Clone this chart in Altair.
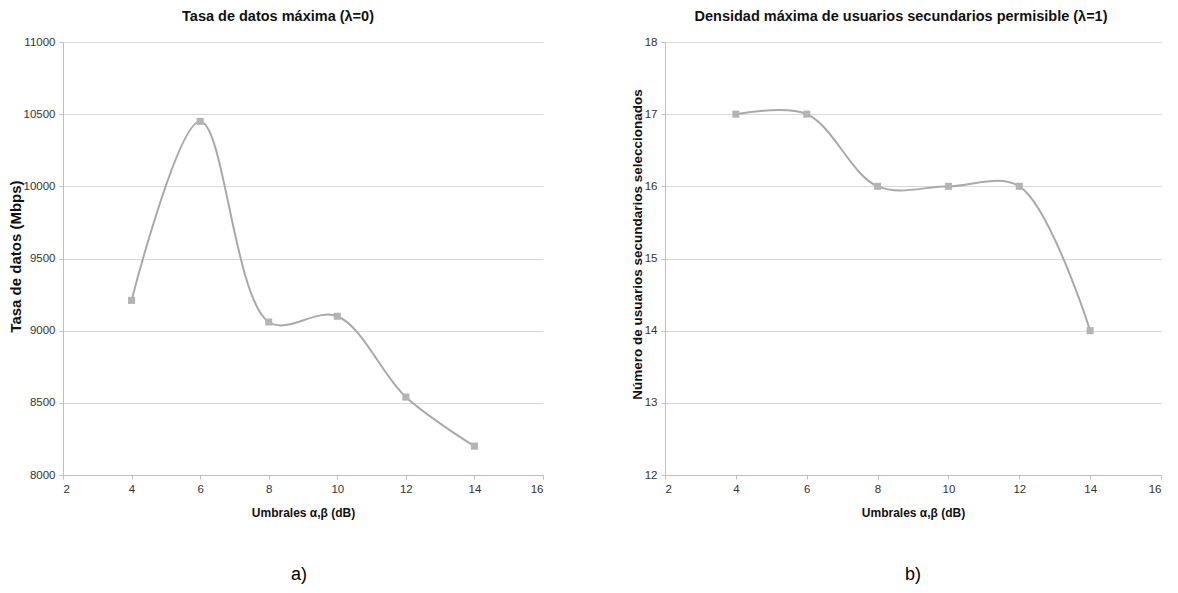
import altair as alt
import pandas as pd

# ---- data ----
umbrales = [4, 6, 8, 10, 12, 14]
tasa_datos = [9210, 10450, 9060, 9100, 8540, 8200]
usuarios_sec = [17, 17, 16, 16, 16, 14]

x_ticks = [2, 4, 6, 8, 10, 12, 14, 16]
y_ticks_a = [8000, 8500, 9000, 9500, 10000, 10500, 11000]
y_ticks_b = [12, 13, 14, 15, 16, 17, 18]

title_a = "Tasa de datos máxima (λ=0)"
title_b = "Densidad máxima de usuarios secundarios permisible (λ=1)"
ytitle_a = "Tasa de datos (Mbps)"
ytitle_b = "Número de usuarios secundarios seleccionados"
xtitle = "Umbrales α,β (dB)"
label_a = "a)"
label_b = "b)"

FONT = "Liberation Sans"
H = 433


def panel(values, yticks, title, title_dx, ytitle, ytitle_size, ytitle_y,
          label, w, label_dx):
    df = pd.DataFrame({"x": umbrales, "y": values})
    x = alt.X(
        "x:Q",
        scale=alt.Scale(domain=[x_ticks[0], x_ticks[-1]], nice=False, zero=False),
        axis=alt.Axis(values=x_ticks, title=xtitle, grid=False, format="d",
                      labelPadding=4, titlePadding=13, tickSize=4),
    )
    y = alt.Y(
        "y:Q",
        scale=alt.Scale(domain=[yticks[0], yticks[-1]], nice=False, zero=False),
        axis=alt.Axis(values=yticks, title=ytitle, grid=True, format="d",
                      labelPadding=4, titlePadding=0, tickSize=4,
                      titleFontSize=ytitle_size, titleY=ytitle_y),
    )
    line = alt.Chart(df).mark_line(
        interpolate="catmull-rom", color="#a9a9a9", strokeWidth=2
    ).encode(x=x, y=y)
    pts = alt.Chart(df).mark_point(
        shape="square", filled=True, size=50, color="#b4b4b4", opacity=1
    ).encode(x=x, y=y)
    lab = alt.Chart(pd.DataFrame({"t": [label]})).mark_text(
        fontSize=18, font=FONT, color="#000000", baseline="middle", align="center"
    ).encode(text="t:N", x=alt.value(w / 2 + label_dx), y=alt.value(H + 100))
    return alt.layer(line, pts, lab).properties(
        width=w, height=H, title=alt.TitleParams(title, dx=title_dx)
    )


left = panel(tasa_datos, y_ticks_a, title_a, -25, ytitle_a, 15, 214,
             label_a, 480, -4)
right = panel(usuarios_sec, y_ticks_b, title_b, -12, ytitle_b, 13.5, 202,
              label_b, 496, 0)

chart = (
    alt.hconcat(left, right, spacing=86)
    .properties(padding={"left": 0, "top": 0, "right": 0, "bottom": 0})
    .configure_view(strokeWidth=0)
    .configure_axis(
        labelFont=FONT, titleFont=FONT, labelFontSize=11.5, titleFontSize=12,
        titleFontWeight="bold", labelColor="#333333", titleColor="#111111",
        domainColor="#bfbfbf", tickColor="#bfbfbf", gridColor="#d9d9d9",
    )
    .configure_title(font=FONT, fontSize=14.5, fontWeight="bold", anchor="middle",
                     color="#111111", offset=12)
)

chart.save("out.html", embed_options={"renderer": "svg", "actions": False})
